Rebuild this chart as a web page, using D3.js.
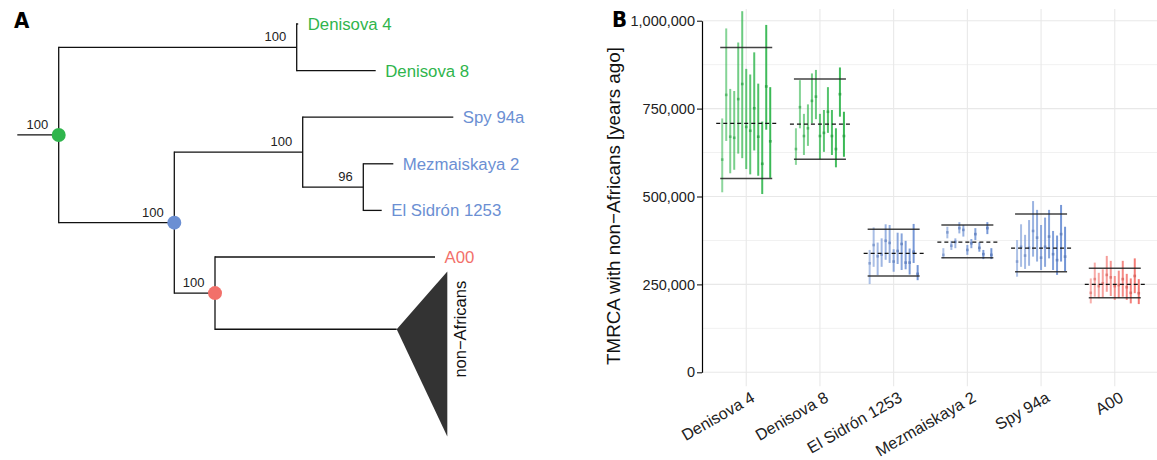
<!DOCTYPE html>
<html>
<head>
<meta charset="utf-8">
<script src="https://cdn.jsdelivr.net/npm/d3@7"></script>
<style>
  body { margin: 0; background: #fff; }
  text { font-family: "Liberation Sans", Arial, Helvetica, sans-serif; }
</style>
</head>
<body>
<div id="graf"></div>
<script>
// ---------- panel A : tree ----------
const nodeIds     = ['root', 'den', 'Denisova 4', 'Denisova 8', 'arch', 'nea', 'Spy 94a', 'mezes',
                     'Mezmaiskaya 2', 'El Sidrón 1253', 'mod', 'A00', 'non−Africans']
const nodeParents = [null, 'root', 'den', 'den', 'root', 'arch', 'nea', 'nea',
                     'mezes', 'mezes', 'arch', 'mod', 'mod']
const branchLen   = [0.00414, 0.0238, 0.00015, 0.0079, 0.01156, 0.01284, 0.01506, 0.00606,
                     0.0030, 0.00184, 0.00407, 0.0220, 0.01817]
const nodeSupport = [100, 100, null, null, 100, 100, null, 96, null, null, 100, null, null]
const tipNames    = ['Denisova 4', 'Denisova 8', 'Spy 94a', 'Mezmaiskaya 2', 'El Sidrón 1253', 'A00', 'non−Africans']
const tipPos      = [1, 2, 3, 4, 5, 6, 7.55]
const tipGroup    = ['Denisovan', 'Denisovan', 'Neanderthal', 'Neanderthal', 'Neanderthal', 'A00', 'other']
// collapsed clade (non-Africans): depth and tip spread
const collapsedDepth  = 0.00506
const collapsedSpread = [6.31, 9.85]
// coloured nodes
const markedNodes = ['root', 'arch', 'mod']
const markedGroup = ['Denisovan', 'Neanderthal', 'A00']

// ---------- panel B : TMRCA ----------
const categories = ['Denisova 4', 'Denisova 8', 'El Sidrón 1253', 'Mezmaiskaya 2', 'Spy 94a', 'A00']
const catGroup   = ['Denisovan', 'Denisovan', 'Neanderthal', 'Neanderthal', 'Neanderthal', 'A00']
// [lower, estimate, upper] for each individual
const denisova4 = [[512000, 605000, 722000], [658000, 789000, 978000], [566000, 670000, 806000],
  [576000, 667000, 800000], [622000, 777000, 938000], [609000, 820000, 1027000], [578000, 698000, 863000],
  [563000, 687000, 847000], [631000, 751000, 910000], [559000, 670000, 821000], [507000, 593000, 713000],
  [690000, 813000, 988000], [553000, 657000, 811000]]
const denisova8 = [[590000, 635000, 694000], [694000, 754000, 831000], [618000, 672000, 735000],
  [644000, 694000, 762000], [708000, 772000, 850000], [720000, 784000, 860000], [606000, 672000, 735000],
  [627000, 681000, 746000], [681000, 741000, 811000], [618000, 672000, 746000], [583000, 635000, 694000],
  [727000, 791000, 867000], [613000, 672000, 741000]]
const elSidron = [[251000, 310000, 348000], [300000, 362000, 412000], [276000, 330000, 369000],
  [300000, 335000, 381000], [320000, 374000, 421000], [311000, 368000, 419000], [286000, 315000, 350000],
  [308000, 345000, 397000], [291000, 365000, 395000], [293000, 312000, 374000], [278000, 312000, 352000],
  [311000, 343000, 422000], [262000, 280000, 305000]]
const mezmaiskaya = [[324000, 334000, 353000], [381000, 398000, 414000], [348000, 360000, 373000],
  [353000, 371000, 381000], [395000, 410000, 427000], [386000, 405000, 419000], [334000, 348000, 362000],
  [353000, 367000, 379000], [376000, 393000, 410000], [343000, 354000, 370000], [322000, 336000, 348000],
  [393000, 410000, 427000], [322000, 334000, 353000]]
const spy = [[272000, 315000, 376000], [300000, 357000, 421000], [294000, 332000, 391000],
  [303000, 354000, 433000], [329000, 402000, 487000], [315000, 383000, 462000], [291000, 326000, 419000],
  [300000, 357000, 440000], [324000, 386000, 462000], [291000, 336000, 402000], [277000, 319000, 389000],
  [315000, 393000, 476000], [288000, 329000, 414000]]
const a00 = [[196000, 226000, 267000], [215000, 265000, 312000], [211000, 245000, 283000],
  [213000, 253000, 293000], [229000, 277000, 331000], [217000, 270000, 317000], [206000, 245000, 274000],
  [211000, 248000, 289000], [215000, 265000, 317000], [206000, 242000, 280000], [196000, 226000, 267000],
  [225000, 274000, 324000], [194000, 225000, 265000]]
const upperLine = [924000, 834000, 407000, 419000, 450000, 296000]
const meanLine  = [708000, 706000, 338000, 370000, 353000, 250000]
const lowerLine = [551000, 606000, 274000, 326000, 286000, 212000]
const yTicks      = [0, 250000, 500000, 750000, 1000000]
const yMinorTicks = [125000, 375000, 625000, 875000]

const perCat = [denisova4, denisova8, elSidron, mezmaiskaya, spy, a00]

const color = d3.scaleOrdinal()
  .domain(['Denisovan', 'Neanderthal', 'A00', 'other'])
  .range(['#2fb54c', '#6b8fd3', '#f2706a', '#000'])

svg = d3.select('#graf').append('svg')
  .attr('width', 1157)
  .attr('height', 460)

// ================= panel A =================
const tbl = nodeIds.map((id, i) => ({ id: id, parent: nodeParents[i], len: branchLen[i], support: nodeSupport[i] }))
const tree = d3.stratify().id(d => d.id).parentId(d => d.parent)(tbl)
tree.each(n => { n.dist = (n.parent ? n.parent.dist : 0) + n.data.len })
tree.eachAfter(n => {
  n.pos = n.children ? d3.mean(n.children, c => c.pos) : tipPos[tipNames.indexOf(n.id)]
})

xT = d3.scaleLinear().domain([0, 0.04]).range([17.3, 417.3])
yT = d3.scaleLinear().domain([1, 7]).range([24, 303.6])

gA = svg.append('g')

gA.append('text')
  .attr('x', 14).attr('y', 28)
  .style('font-family', '"Liberation Sans Narrow", "DejaVu Sans Condensed", sans-serif')
  .style('font-weight', 'bold')
  .style('font-size', '22px')
  .text('A')

// root edge
gA.append('line')
  .attr('x1', xT(0)).attr('x2', xT(tree.dist))
  .attr('y1', yT(tree.pos)).attr('y2', yT(tree.pos))
  .attr('stroke', '#111').attr('stroke-width', 1.3)

// horizontal branches
gA.selectAll('.hbr').data(tree.descendants().filter(n => n.parent))
  .join('line').attr('class', 'hbr')
  .attr('x1', n => xT(n.parent.dist)).attr('x2', n => xT(n.dist))
  .attr('y1', n => yT(n.pos)).attr('y2', n => yT(n.pos))
  .attr('stroke', '#111').attr('stroke-width', 1.3)

// vertical connectors
gA.selectAll('.vbr').data(tree.descendants().filter(n => n.children))
  .join('line').attr('class', 'vbr')
  .attr('x1', n => xT(n.dist)).attr('x2', n => xT(n.dist))
  .attr('y1', n => yT(d3.min(n.children, c => c.pos)) - 0.65)
  .attr('y2', n => yT(d3.max(n.children, c => c.pos)) + 0.65)
  .attr('stroke', '#111').attr('stroke-width', 1.3)

// collapsed clade triangle
const coll = tree.find(n => n.id === 'non−Africans')
gA.append('path')
  .attr('d', d3.line()([
    [xT(coll.dist), yT(coll.pos)],
    [xT(coll.dist + collapsedDepth), yT(collapsedSpread[0])],
    [xT(coll.dist + collapsedDepth), yT(collapsedSpread[1])]
  ]) + 'Z')
  .attr('fill', '#333')

gA.append('text')
  .attr('transform', `translate(${xT(coll.dist + collapsedDepth) + 19}, ${yT(coll.pos)}) rotate(-90)`)
  .attr('text-anchor', 'middle')
  .style('font-size', '16.5px')
  .attr('fill', '#111')
  .text('non−Africans')

// support values
gA.selectAll('.sup').data(tree.descendants().filter(n => n.data.support != null))
  .join('text').attr('class', 'sup')
  .attr('x', n => xT(n.dist) - 10.5)
  .attr('y', n => yT(n.pos) - 6)
  .attr('text-anchor', 'end')
  .style('font-size', '13px')
  .attr('fill', '#222')
  .text(n => n.data.support)

// tip labels
gA.selectAll('.tip').data(tree.leaves().filter(n => n.id !== 'non−Africans'))
  .join('text').attr('class', 'tip')
  .attr('x', n => xT(n.dist) + 9.5)
  .attr('y', n => yT(n.pos))
  .attr('dy', '0.36em')
  .style('font-size', '16.8px')
  .attr('fill', n => color(tipGroup[tipNames.indexOf(n.id)]))
  .text(n => n.id)

// coloured node dots
gA.selectAll('.dot').data(markedNodes)
  .join('circle').attr('class', 'dot')
  .attr('cx', id => xT(tree.find(n => n.id === id).dist))
  .attr('cy', id => yT(tree.find(n => n.id === id).pos))
  .attr('r', 7)
  .attr('fill', (id, i) => color(markedGroup[i]))

// ================= panel B =================
x = d3.scalePoint().domain(categories).range([702, 1159]).padding(0.6)
y = d3.scaleLinear().domain([0, 1000000]).range([372.3, 20.7])
jit = d3.scalePoint().domain(d3.range(13)).range([-24, 24])
alpha = d3.scaleLinear().domain([0, 12]).range([0.55, 0.95])

gB = svg.append('g')

gB.append('text')
  .attr('x', 612).attr('y', 27)
  .style('font-family', '"Liberation Sans Narrow", "DejaVu Sans Condensed", sans-serif')
  .style('font-weight', 'bold')
  .style('font-size', '22px')
  .text('B')

// grid
gB.selectAll('.minor').data(yMinorTicks)
  .join('line').attr('class', 'minor')
  .attr('x1', 702).attr('x2', 1157)
  .attr('y1', d => y(d)).attr('y2', d => y(d))
  .attr('stroke', '#f1f1f1').attr('stroke-width', 1)
gB.selectAll('.major').data(yTicks)
  .join('line').attr('class', 'major')
  .attr('x1', 702).attr('x2', 1157)
  .attr('y1', d => y(d)).attr('y2', d => y(d))
  .attr('stroke', '#e8e8e8').attr('stroke-width', 1.1)
gB.selectAll('.vgrid').data(categories)
  .join('line').attr('class', 'vgrid')
  .attr('x1', d => x(d)).attr('x2', d => x(d))
  .attr('y1', y(1033000)).attr('y2', y(-40000))
  .attr('stroke', '#e8e8e8').attr('stroke-width', 1.1)

// y axis
yAxisCall = d3.axisLeft(y).tickValues(yTicks).tickFormat(d3.format(',')).tickSize(5).tickSizeOuter(0).tickPadding(2)
yAxis = gB.append('g')
  .attr('transform', 'translate(702, 0)')
  .call(yAxisCall)
yAxis.select('.domain').attr('stroke', '#000').attr('stroke-width', 1.2)
yAxis.selectAll('.tick line').attr('stroke', '#000').attr('stroke-width', 1)
yAxis.selectAll('.tick text')
  .attr('fill', '#222')
  .style('font-size', '14.5px')
  .style('font-family', '"Liberation Sans", Arial, sans-serif')

gB.append('text')
  .attr('transform', 'translate(620, 206) rotate(-90)')
  .attr('text-anchor', 'middle')
  .style('font-size', '18.8px')
  .attr('fill', '#111')
  .text('TMRCA with non−Africans [years ago]')

// x labels
gB.selectAll('.xlab').data(categories)
  .join('text').attr('class', 'xlab')
  .attr('transform', d => `translate(${x(d) + 4}, 391) rotate(-30)`)
  .attr('text-anchor', 'end')
  .attr('dy', '0.7em')
  .style('font-size', '16.2px')
  .attr('fill', '#222')
  .text(d => d)

// error bars
categories.forEach((cat, ci) => {
  const c = color(catGroup[ci])
  const g = gB.append('g')
  g.selectAll('.bar').data(perCat[ci])
    .join('line').attr('class', 'bar')
    .attr('x1', (d, i) => x(cat) + jit(i)).attr('x2', (d, i) => x(cat) + jit(i))
    .attr('y1', d => y(d[0])).attr('y2', d => y(d[2]))
    .attr('stroke', c).attr('stroke-width', 2)
    .attr('stroke-opacity', (d, i) => alpha(i))
  g.selectAll('.pt').data(perCat[ci])
    .join('rect').attr('class', 'pt')
    .attr('x', (d, i) => x(cat) + jit(i) - 1.3)
    .attr('y', d => y(d[1]) - 1.3)
    .attr('width', 2.6).attr('height', 2.6)
    .attr('fill', d3.color(c).darker(0.3))
    .attr('fill-opacity', (d, i) => alpha(i))
})

// summary lines
gB.selectAll('.up').data(upperLine)
  .join('line').attr('class', 'up')
  .attr('x1', (d, i) => x(categories[i]) - 26).attr('x2', (d, i) => x(categories[i]) + 26)
  .attr('y1', d => y(d)).attr('y2', d => y(d))
  .attr('stroke', '#222').attr('stroke-opacity', 0.85).attr('stroke-width', 1.5)
gB.selectAll('.lo').data(lowerLine)
  .join('line').attr('class', 'lo')
  .attr('x1', (d, i) => x(categories[i]) - 26).attr('x2', (d, i) => x(categories[i]) + 26)
  .attr('y1', d => y(d)).attr('y2', d => y(d))
  .attr('stroke', '#222').attr('stroke-opacity', 0.85).attr('stroke-width', 1.5)
gB.selectAll('.mean').data(meanLine)
  .join('line').attr('class', 'mean')
  .attr('x1', (d, i) => x(categories[i]) - 30).attr('x2', (d, i) => x(categories[i]) + 32)
  .attr('y1', d => y(d)).attr('y2', d => y(d))
  .attr('stroke', '#111').attr('stroke-width', 1.2)
  .attr('stroke-dasharray', '4,3')
</script>
</body>
</html>
